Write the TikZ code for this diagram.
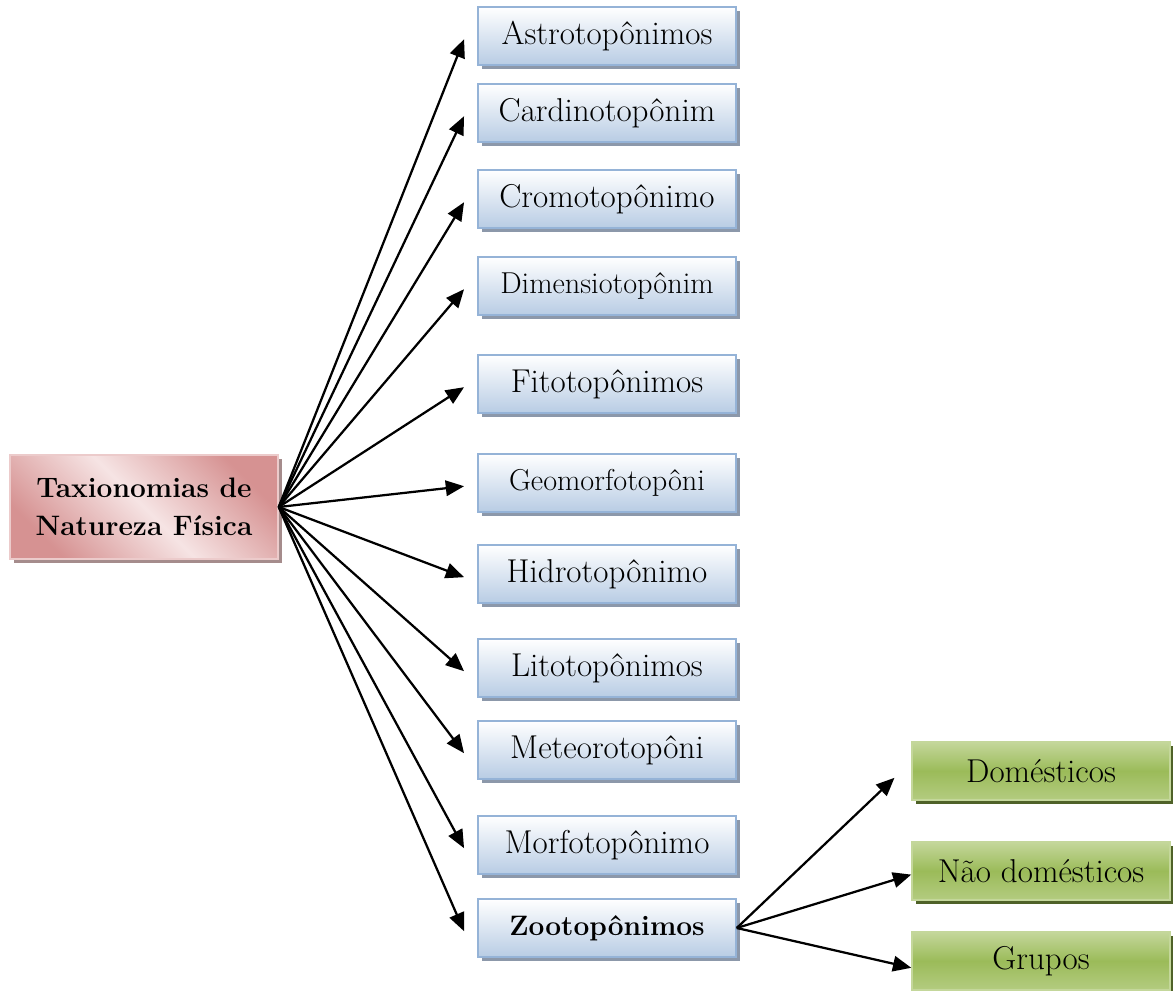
\documentclass[tikz,border=0pt]{standalone}
\usepackage{tikz}
\usetikzlibrary{arrows.meta,shadows}

\definecolor{tipoborda}{RGB}{149,179,215}
\definecolor{tipofundo}{RGB}{184,204,228}
\definecolor{tiposombra}{RGB}{140,152,170}
\definecolor{raizescura}{RGB}{214,146,146}
\definecolor{raizclara}{RGB}{246,228,228}
\definecolor{raizsombra}{RGB}{165,140,140}
\definecolor{subverde}{RGB}{155,187,89}
\definecolor{subclaro}{RGB}{196,215,155}
\definecolor{subsombra}{RGB}{79,98,40}

\tikzset{
  tipo/.style={draw=tipoborda,line width=1pt,top color=white,bottom color=tipofundo,
    minimum width=6.45cm,minimum height=1.45cm,inner sep=0pt,
    font=\fontsize{23.5}{27}\selectfont,
    drop shadow={shadow xshift=0.1cm,shadow yshift=-0.1cm,fill=tiposombra,opacity=1}},
  raiz/.style={draw=raizclara!70!raizescura,line width=1pt,
    top color=raizescura,bottom color=raizescura,middle color=raizclara,shading angle=-45,
    minimum width=6.7cm,minimum height=2.6cm,align=center,
    font=\bfseries\fontsize{20}{27}\selectfont,
    drop shadow={shadow xshift=0.1cm,shadow yshift=-0.1cm,fill=raizsombra,opacity=1}},
  sub/.style={draw=subclaro,line width=1pt,top color=subclaro,bottom color=subclaro!60!subverde,
    middle color=subverde,minimum width=6.45cm,minimum height=1.45cm,inner sep=0pt,
    font=\fontsize{23.5}{27}\selectfont,
    drop shadow={shadow xshift=0.1cm,shadow yshift=-0.1cm,fill=subsombra,opacity=1}},
  seta/.style={line width=1.6pt,-{Triangle[length=13pt,width=11pt]}}
}

\begin{document}
\begin{tikzpicture}[x=0.025cm,y=-0.025cm]
  \useasboundingbox (0,0) rectangle (1173,991);

  \node[raiz] (tax) at (144,507) {Taxionomias de\\Natureza Física};

  \foreach \i/\y/\t in {1/36/Astrotopônimos,2/113/Cardinotopônim,3/199/Cromotopônimo,
      4/286/{\fontsize{21.5}{25}\selectfont Dimensiotopônim},5/384/Fitotopônimos,
      6/483/{\fontsize{21.5}{25}\selectfont Geomorfotopôni},7/574/Hidrotopônimo,
      8/668/Litotopônimos,9/750/Meteorotopôni,10/845/Morfotopônimo,
      11/928/{\bfseries\fontsize{20}{24}\selectfont Zootopônimos}}
    \node[tipo] (t\i) at (607,\y) {\t};

  \foreach \i in {1,...,11}
    \draw[seta] (tax.east) -- ([xshift=-0.33cm,yshift=-0.08cm]t\i.west);

  \node[sub] (dom) at (1041,771) {Domésticos};
  \node[sub] (ndom) at (1041,871) {Não domésticos};
  \node[sub] (grp) at (1041,961) {Grupos};

  \draw[seta] (t11.east) -- ([xshift=-0.42cm,yshift=-0.17cm]dom.west);
  \draw[seta] (t11.east) -- ([yshift=-0.09cm]ndom.west);
  \draw[seta] (t11.east) -- ([yshift=-0.17cm]grp.west);
\end{tikzpicture}
\end{document}
